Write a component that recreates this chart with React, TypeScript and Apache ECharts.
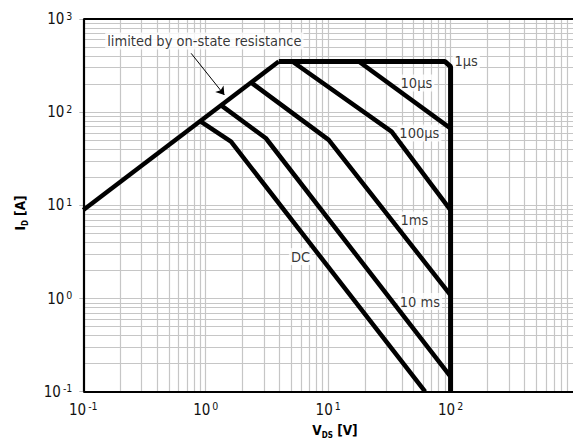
import React, { useEffect, useRef } from "react";
import * as echarts from "echarts";

const FONT = "'Liberation Sans Narrow', 'DejaVu Sans Condensed', sans-serif";

// Axis ranges / tick labels (decades)
const X_MIN = 0.1;
const X_MAX = 1000;
const Y_MIN = 0.1;
const Y_MAX = 1000;

// Minor/major gridlines (log grid 1..9 per decade)
const X_GRID = [
  0.2, 0.3, 0.4, 0.5, 0.6, 0.7, 0.8, 0.9,
  1, 2, 3, 4, 5, 6, 7, 8, 9,
  10, 20, 30, 40, 50, 60, 70, 80, 90,
  100, 200, 300, 400, 500, 600, 700, 800, 900,
];
const Y_GRID = [
  0.2, 0.3, 0.4, 0.5, 0.6, 0.7, 0.8, 0.9,
  1, 2, 3, 4, 5, 6, 7, 8, 9,
  10, 20, 30, 40, 50, 60, 70, 80, 90,
  100, 200, 300, 400, 500, 600, 700, 800, 900,
];

// Safe operating area curves: [V_DS (V), I_D (A)]
const RDS_LIMIT = [[0.1, 8.9], [3.95, 350]];
const PULSE_1US = [[3.95, 350], [90, 350], [100, 308], [100, 0.1]];
const PULSE_10US = [[17.8, 350], [100, 67]];
const PULSE_100US = [[5.1, 350], [33, 61.8], [100, 8.9]];
const PULSE_1MS = [[2.34, 209], [10.1, 50.4], [100, 1.09]];
const PULSE_10MS = [[1.33, 119], [3.1, 52.5], [100, 0.145]];
const DC_LINE = [[0.9, 80], [1.61, 48.2], [62, 0.1]];

// Curve labels: [V, I, text]
const CURVE_LABELS = [
  [134, 350, "1µs"],
  [52.6, 206, "10µs"],
  [55.6, 59.8, "100µs"],
  [50.7, 6.97, "1ms"],
  [56.2, 0.927, "10 ms"],
  [5.94, 2.82, "DC"],
  [0.975, 581, "limited by on-state resistance"],
];
const ARROW_FROM = [0.76, 428];
const ARROW_TO = [1.42, 153];

const supFmt = (v: number) => {
  const e = Math.round(Math.log10(v));
  return `{b|10}{s|${e}}`;
};

export default function App() {
  const ref = useRef<HTMLDivElement>(null);
  useEffect(() => {
    if (!ref.current) return;
    const chart = echarts.init(ref.current, undefined, { renderer: "svg" });
    const rich = {
      b: { fontSize: 15, fontFamily: FONT, color: "#111", lineHeight: 18 },
      s: { fontSize: 10.5, fontFamily: FONT, color: "#111", verticalAlign: "top", padding: [0, 0, 0, 2], lineHeight: 18 },
    };
    const curve = (name: string, data: number[][], width = 4.5) => ({
      name,
      type: "line",
      data,
      symbol: "none",
      showSymbol: false,
      z: 4,
      lineStyle: { color: "#000", width },
      itemStyle: { color: "#000" },
      emphasis: { disabled: true },
      silent: true,
    });
    const option: any = {
      animation: false,
      textStyle: { fontFamily: FONT },
      grid: { left: 83.3, right: -2.3, top: 19, bottom: 52.3, show: false },
      xAxis: {
        type: "log",
        logBase: 10,
        min: X_MIN,
        max: X_MAX,
        axisLine: { show: false },
        axisTick: { show: false },
        splitLine: { show: false },
        axisLabel: { formatter: supFmt, rich, margin: 9, showMaxLabel: false },
      },
      yAxis: {
        type: "log",
        logBase: 10,
        min: Y_MIN,
        max: Y_MAX,
        axisLine: { show: false },
        axisTick: { show: true, length: 4, lineStyle: { color: "#bbb" } },
        splitLine: { show: false },
        axisLabel: { formatter: supFmt, rich, margin: 11 },
      },
      graphic: [
        {
          type: "text",
          x: 20,
          y: 213,
          rotation: Math.PI / 2,
          style: {
            text: "{b|I}{d|D}{b| [A]}",
            align: "center",
            verticalAlign: "middle",
            rich: {
              b: { fontSize: 13.5, fontWeight: "bold", fontFamily: FONT, fill: "#000", lineHeight: 18 },
              d: { fontSize: 8, fontWeight: "bold", fontFamily: FONT, fill: "#000", verticalAlign: "bottom", lineHeight: 18 },
            },
          },
        },
        {
          type: "text",
          x: 335,
          y: 430,
          style: {
            text: "{b|V}{d|DS}{b| [V]}",
            align: "center",
            verticalAlign: "middle",
            rich: {
              b: { fontSize: 13.5, fontWeight: "bold", fontFamily: FONT, fill: "#000", lineHeight: 18 },
              d: { fontSize: 8, fontWeight: "bold", fontFamily: FONT, fill: "#000", verticalAlign: "bottom", lineHeight: 18 },
            },
          },
        },
      ],
      series: [
        {
          type: "line",
          data: [[X_MIN, Y_MIN]],
          symbol: "none",
          z: 1,
          silent: true,
          lineStyle: { width: 0 },
          markLine: {
            z: 1,
            silent: true,
            symbol: ["none", "none"],
            label: { show: false },
            lineStyle: { color: "#c6c6c6", width: 1.2, type: "solid" },
            data: [
              ...X_GRID.map((v) => ({ xAxis: v })),
              ...Y_GRID.map((v) => ({ yAxis: v })),
            ],
          },
        },
        {
          type: "scatter",
          data: CURVE_LABELS,
          symbolSize: 0,
          z: 3,
          silent: true,
          label: {
            show: true,
            position: "inside",
            formatter: (p: any) => p.data[2],
            fontFamily: FONT,
            fontSize: 14.5,
            color: "#000",
            textBorderWidth: 0,
            textBorderColor: "transparent",
            backgroundColor: "#fff",
            padding: [1, 2, 1, 2],
          },
          markLine: {
            z: 3,
            silent: true,
            symbol: ["none", "arrow"],
            symbolSize: 8,
            label: { show: false },
            lineStyle: { color: "#000", width: 1, type: "solid" },
            data: [[{ coord: ARROW_FROM }, { coord: ARROW_TO }]],
          },
        },
        curve("Rds", RDS_LIMIT),
        curve("1us", PULSE_1US, 5),
        curve("10us", PULSE_10US),
        curve("100us", PULSE_100US),
        curve("1ms", PULSE_1MS),
        curve("10ms", PULSE_10MS),
        curve("DC", DC_LINE),
        {
          type: "line",
          data: [[X_MIN, Y_MIN]],
          symbol: "none",
          z: 6,
          silent: true,
          lineStyle: { width: 0 },
          markLine: {
            z: 6,
            silent: true,
            symbol: ["none", "none"],
            label: { show: false },
            lineStyle: { color: "#000", width: 2.2, type: "solid" },
            data: [{ xAxis: X_MIN }, { yAxis: Y_MIN }, { yAxis: Y_MAX }],
          },
        },
      ],
    };
    chart.setOption(option);
    return () => chart.dispose();
  }, []);
  return (
    <div
      ref={ref}
      style={{ position: "absolute", left: 0, top: 0, width: 573, height: 444, background: "#fff" }}
    />
  );
}
